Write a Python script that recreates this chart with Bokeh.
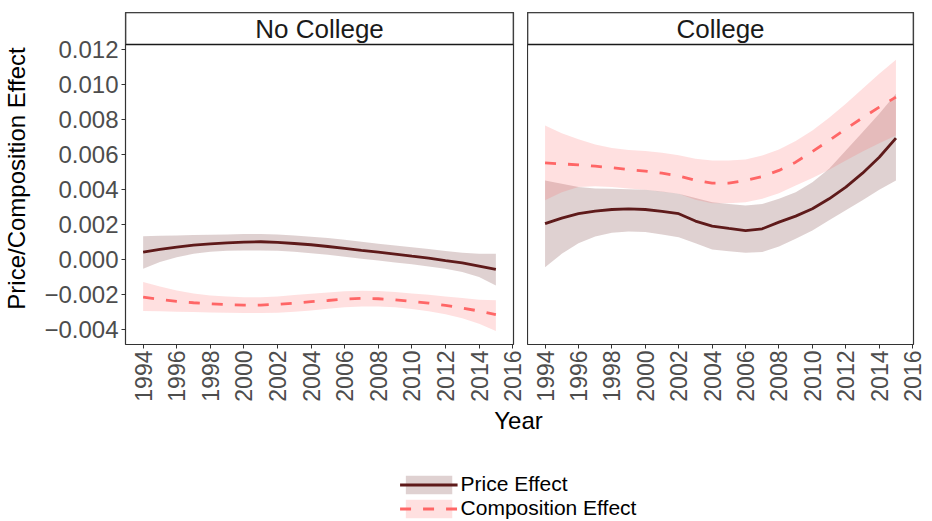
import math
from bokeh.plotting import figure
from bokeh.layouts import row, column
from bokeh.models import (Range1d, FixedTicker, Legend, LegendItem, Label,
                          ColumnDataSource, BoxAnnotation)
from bokeh.embed import file_html
from bokeh.resources import INLINE

# ---------------- data ----------------
years = [1994, 1995, 1996, 1997, 1998, 1999, 2000, 2001, 2002, 2003, 2004,
         2005, 2006, 2007, 2008, 2009, 2010, 2011, 2012, 2013, 2014, 2015]

# No College
nc_price = [0.00043, 0.00058, 0.00071, 0.00083, 0.00090, 0.00096, 0.00100, 0.00102,
            0.00098, 0.00092, 0.00085, 0.00075, 0.00064, 0.00053, 0.00043, 0.00032,
            0.00020, 0.00009, -0.00005, -0.00018, -0.00037, -0.00056]
nc_price_hi = [0.00134, 0.00136, 0.00138, 0.00140, 0.00142, 0.00144, 0.00146, 0.00146,
               0.00144, 0.00138, 0.00130, 0.00123, 0.00113, 0.00102, 0.00090, 0.00081,
               0.00071, 0.00060, 0.00049, 0.00039, 0.00033, 0.00033]
nc_price_lo = [-0.00052, -0.00014, 0.00014, 0.00033, 0.00045, 0.00051, 0.00052, 0.00052,
               0.00051, 0.00045, 0.00037, 0.00028, 0.00016, 0.00005, -0.00005, -0.00016,
               -0.00027, -0.00039, -0.00052, -0.00071, -0.00099, -0.00147]
nc_comp = [-0.00214, -0.00227, -0.00238, -0.00246, -0.00252, -0.00257, -0.00259, -0.00259,
           -0.00255, -0.00248, -0.00240, -0.00233, -0.00225, -0.00221, -0.00223, -0.00229,
           -0.00238, -0.00248, -0.00261, -0.00276, -0.00293, -0.00314]
nc_comp_hi = [-0.00128, -0.00153, -0.00176, -0.00193, -0.00204, -0.00210, -0.00214, -0.00214,
              -0.00210, -0.00202, -0.00194, -0.00187, -0.00181, -0.00177, -0.00179, -0.00185,
              -0.00193, -0.00200, -0.00210, -0.00219, -0.00229, -0.00232]
nc_comp_lo = [-0.00293, -0.00295, -0.00297, -0.00299, -0.00301, -0.00303, -0.00305, -0.00305,
              -0.00303, -0.00297, -0.00290, -0.00280, -0.00272, -0.00267, -0.00267, -0.00272,
              -0.00282, -0.00295, -0.00312, -0.00335, -0.00366, -0.00407]

# College
c_price = [0.00205, 0.00237, 0.00262, 0.00277, 0.00286, 0.00290, 0.00286, 0.00275,
           0.00262, 0.00220, 0.00191, 0.00178, 0.00166, 0.00176, 0.00214, 0.00248,
           0.00290, 0.00347, 0.00414, 0.00493, 0.00584, 0.00693]
c_price_hi = [0.00452, 0.00433, 0.00414, 0.00406, 0.00404, 0.00402, 0.00398, 0.00389,
              0.00376, 0.00351, 0.00328, 0.00318, 0.00309, 0.00318, 0.00347, 0.00385,
              0.00442, 0.00518, 0.00623, 0.00727, 0.00832, 0.00946]
c_price_lo = [-0.00043, 0.00033, 0.00094, 0.00132, 0.00153, 0.00161, 0.00157, 0.00143,
              0.00128, 0.00094, 0.00058, 0.00048, 0.00039, 0.00043, 0.00075, 0.00119,
              0.00166, 0.00224, 0.00281, 0.00338, 0.00398, 0.00452]
c_comp = [0.00552, 0.00546, 0.00541, 0.00533, 0.00524, 0.00514, 0.00505, 0.00493,
          0.00478, 0.00452, 0.00436, 0.00436, 0.00452, 0.00474, 0.00509, 0.00556,
          0.00617, 0.00680, 0.00746, 0.00809, 0.00870, 0.00927]
c_comp_hi = [0.00765, 0.00721, 0.00687, 0.00657, 0.00636, 0.00626, 0.00619, 0.00609,
             0.00596, 0.00575, 0.00565, 0.00565, 0.00571, 0.00594, 0.00628, 0.00676,
             0.00737, 0.00809, 0.00889, 0.00974, 0.01060, 0.01140]
c_comp_lo = [0.00338, 0.00385, 0.00414, 0.00418, 0.00414, 0.00406, 0.00398, 0.00387,
             0.00376, 0.00341, 0.00322, 0.00322, 0.00328, 0.00347, 0.00379, 0.00423,
             0.00465, 0.00512, 0.00565, 0.00617, 0.00664, 0.00708]

facets = ["No College", "College"]
series_labels = ["Price Effect", "Composition Effect"]
x_title = "Year"
y_title = "Price/Composition Effect"

x_ticks = [1994, 1996, 1998, 2000, 2002, 2004, 2006, 2008, 2010, 2012, 2014, 2016]
x_tick_labels = ["1994", "1996", "1998", "2000", "2002", "2004", "2006", "2008",
                 "2010", "2012", "2014", "2016"]
y_ticks = [-0.004, -0.002, 0.0, 0.002, 0.004, 0.006, 0.008, 0.010, 0.012]
y_tick_labels = ["\u22120.004", "\u22120.002", "0.000", "0.002", "0.004", "0.006",
                 "0.008", "0.010", "0.012"]

# ---------------- styling / layout ----------------
FONT = "Liberation Sans"
PRICE = "#5E1A1A"
COMP = "#FF6666"
BORDER = "#333333"
TICK_TXT = "#4D4D4D"

TOP_BORDER = 12       # canvas top -> strip top
STRIP_H = 32
PANEL_H = 300
BOTTOM_BORDER = 62
ROW_H = TOP_BORDER + STRIP_H + PANEL_H + BOTTOM_BORDER

L_WIDTH, L_LEFT, L_FRAME = 527, 123, 390
R_WIDTH, R_LEFT, R_FRAME = 403, 0, 386
TOTAL_H = 520

X_LO, X_HI = 1992.95, 2016.05
Y_LO, Y_HI = -0.00484, 0.01227
# the strip sits inside the frame, above the data area
Y_STRIP = Y_HI + STRIP_H * (Y_HI - Y_LO) / PANEL_H


def panel(width, left, fw, show_y, facet, price, price_lo, price_hi,
          comp, comp_lo, comp_hi):
    p = figure(width=width, height=ROW_H, output_backend="svg", toolbar_location=None,
               x_range=Range1d(X_LO, X_HI), y_range=Range1d(Y_LO, Y_STRIP),
               y_axis_location="left" if show_y else None,
               min_border_left=left, min_border_right=width - left - fw,
               min_border_top=TOP_BORDER, min_border_bottom=BOTTOM_BORDER)
    p.xgrid.visible = False
    p.ygrid.visible = False
    p.outline_line_color = BORDER
    p.outline_line_width = 1.2
    p.background_fill_color = "white"
    p.border_fill_color = "white"

    p.varea(x=years, y1=price_lo, y2=price_hi, fill_color=PRICE, fill_alpha=0.2)
    p.varea(x=years, y1=comp_lo, y2=comp_hi, fill_color=COMP, fill_alpha=0.2)
    p.line(x=years, y=price, line_color=PRICE, line_width=2.8)
    p.line(x=years, y=comp, line_color=COMP, line_width=2.8, line_dash="11 12")

    # facet strip
    p.add_layout(BoxAnnotation(bottom=Y_HI, top=Y_STRIP, fill_color="white",
                               fill_alpha=1.0, line_color="#1A1A1A", line_alpha=1.0,
                               line_width=1.6))
    p.add_layout(Label(x=(X_LO + X_HI) / 2, y=(Y_HI + Y_STRIP) / 2, text=facet,
                       text_align="center", text_baseline="middle", text_font=FONT,
                       text_font_size="26px", text_color="#1A1A1A"))

    ax = p.xaxis[0]
    ax.ticker = FixedTicker(ticks=x_ticks)
    ax.major_label_overrides = dict(zip(x_ticks, x_tick_labels))
    ax.major_label_orientation = math.pi / 2
    ax.major_label_text_font = FONT
    ax.major_label_text_font_size = "23px"
    ax.major_label_text_color = TICK_TXT
    ax.major_label_standoff = 2
    ax.axis_line_color = None
    ax.major_tick_line_color = BORDER
    ax.major_tick_out = 4
    ax.major_tick_in = 0
    ax.minor_tick_out = 0
    ax.minor_tick_in = 0

    if show_y:
        ay = p.yaxis[0]
        ay.ticker = FixedTicker(ticks=y_ticks)
        ay.major_label_overrides = dict(zip(y_ticks, y_tick_labels))
        ay.major_label_text_font = FONT
        ay.major_label_text_font_size = "24px"
        ay.major_label_text_color = TICK_TXT
        ay.major_label_standoff = 3
        ay.axis_line_color = None
        ay.major_tick_line_color = BORDER
        ay.major_tick_out = 4
        ay.major_tick_in = 0
        ay.minor_tick_out = 0
        ay.minor_tick_in = 0
        ay.axis_label = y_title
        ay.axis_label_text_font = FONT
        ay.axis_label_text_font_size = "24px"
        ay.axis_label_text_font_style = "normal"
        ay.axis_label_text_color = "black"
        ay.axis_label_standoff = 11
    return p


pL = panel(L_WIDTH, L_LEFT, L_FRAME, True, facets[0], nc_price, nc_price_lo,
           nc_price_hi, nc_comp, nc_comp_lo, nc_comp_hi)
pR = panel(R_WIDTH, R_LEFT, R_FRAME, False, facets[1], c_price, c_price_lo,
           c_price_hi, c_comp, c_comp_lo, c_comp_hi)

# bottom area: "Year" title and the legend
G_H = TOTAL_H - ROW_H
g = figure(width=L_WIDTH + R_WIDTH, height=G_H, output_backend="svg",
           toolbar_location=None, x_range=Range1d(0, 1), y_range=Range1d(0, G_H),
           x_axis_location=None, y_axis_location=None,
           min_border_left=L_LEFT, min_border_right=R_WIDTH - R_LEFT - R_FRAME,
           min_border_top=0, min_border_bottom=0)
g.xgrid.visible = False
g.ygrid.visible = False
g.outline_line_color = None
g.add_layout(Label(x=0.5, y=G_H - 14, text=x_title, text_align="center",
                   text_baseline="middle", text_font=FONT,
                   text_font_size="24px", text_color="black"))

# legend proxies (kept outside the visible ranges of this strip of the page)
proxy = ColumnDataSource(dict(x=[-3, -2], y=[-50, -50], y1=[-60, -60], y2=[-40, -40]))
r1 = g.varea(x="x", y1="y1", y2="y2", source=proxy, fill_color=PRICE, fill_alpha=0.2)
r2 = g.line(x="x", y="y", source=proxy, line_color=PRICE, line_width=2.8)
r3 = g.varea(x="x", y1="y1", y2="y2", source=proxy, fill_color=COMP, fill_alpha=0.2)
r4 = g.line(x="x", y="y", source=proxy, line_color=COMP, line_width=2.8,
            line_dash="11 12")
legend = Legend(items=[LegendItem(label=series_labels[0], renderers=[r1, r2]),
                       LegendItem(label=series_labels[1], renderers=[r3, r4])],
                location="bottom_center", orientation="vertical",
                glyph_width=58, glyph_height=23, label_height=23,
                label_standoff=3, spacing=0, padding=0, margin=0,
                border_line_color=None, background_fill_alpha=0,
                label_text_font=FONT, label_text_font_size="21px",
                label_text_color="black")
g.add_layout(legend)

layout = column(row(pL, pR), g)

with open("out.html", "w") as f:
    f.write(file_html(layout, INLINE))
